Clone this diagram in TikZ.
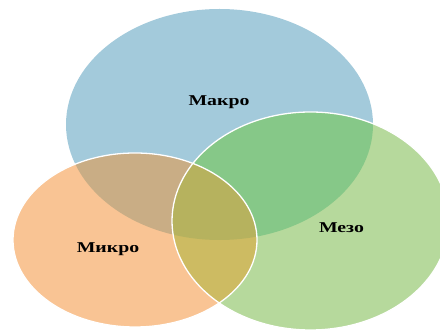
\documentclass[tikz,border=0pt]{standalone}
\usepackage{fontspec}
\setmainfont{Liberation Serif}
\definecolor{cB}{HTML}{A3CADB}
\definecolor{cO}{HTML}{F9C494}
\definecolor{cG}{HTML}{B6D99C}
\definecolor{cBO}{HTML}{C9AD85}
\definecolor{cBG}{HTML}{86C888}
\definecolor{cOG}{HTML}{CDBB62}
\definecolor{cBOG}{HTML}{B6B25E}
\begin{document}
\begin{tikzpicture}[x=1pt,y=-1pt,
  edge/.style={draw=white,line width=1.3pt},
  lbl/.style={font=\fontsize{15}{18}\selectfont\bfseries,text=black,inner sep=0pt}]
\useasboundingbox (0,0) rectangle (440,331);
\clip (0,0) rectangle (440,331);
\def\ellB{(219.5,124.5) ellipse [x radius=153.5pt, y radius=115.5pt]}
\def\ellO{(135,240) ellipse [x radius=122pt, y radius=87pt]}
\def\ellG{(310.5,221) ellipse [x radius=138.5pt, y radius=109pt]}
\fill[cB] \ellB;
\fill[cG] \ellG;
\fill[cO] \ellO;
\begin{scope}
  \clip \ellB;
  \fill[cBG] \ellG;
  \fill[cBO] \ellO;
\end{scope}
\begin{scope}
  \clip \ellG;
  \fill[cOG] \ellO;
  \clip \ellB;
  \fill[cBOG] \ellO;
\end{scope}
\path[edge] \ellO;
\path[edge] \ellG;
\node[lbl] (makro) at (219,102.5) {\scalebox{1.32}[1]{Макро}};
\node[lbl] (mikro) at (108,249.5) {\scalebox{1.32}[1]{Микро}};
\node[lbl] (mezo) at (341.5,228) {\scalebox{1.32}[1]{Мезо}};
\end{tikzpicture}
\end{document}
